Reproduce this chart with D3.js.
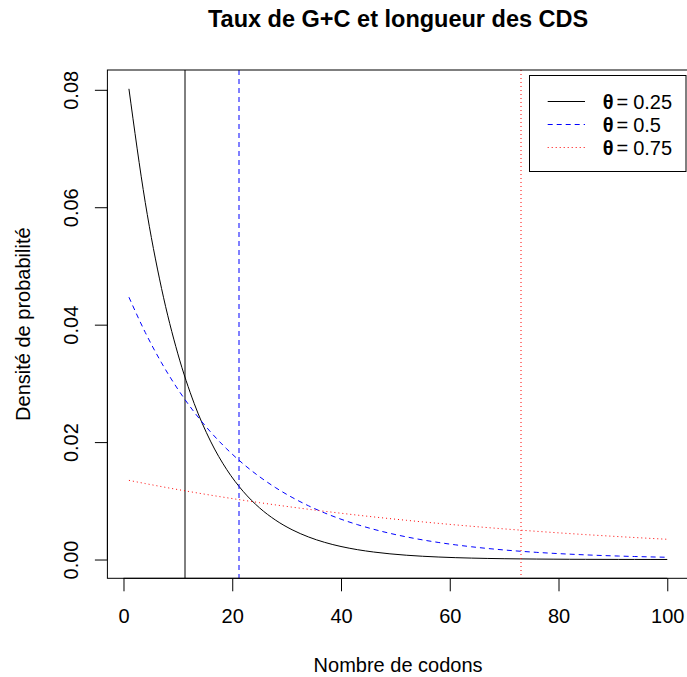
<!DOCTYPE html>
<html>
<head>
<meta charset="utf-8">
<script src="https://cdn.jsdelivr.net/npm/d3@7"></script>
<style>
  body { margin: 0; background: #fff; }
  text { font-family: "Liberation Sans", Arial, sans-serif; }
</style>
</head>
<body>
<div id="container"></div>
<script>
// codon positions sampled along the curves
let codons = [1, 4, 7, 10, 13, 16, 19, 22, 25, 28, 31, 34, 37, 40, 43, 46, 49, 52,
  55, 58, 61, 64, 67, 70, 73, 76, 79, 82, 85, 88, 91, 94, 97, 100]

// density read for each GC rate
let dens025 = [0.080166, 0.060832, 0.046161, 0.035028, 0.026580, 0.020170, 0.015305, 0.011614,
  0.008813, 0.006687, 0.005074, 0.003851, 0.002922, 0.002217, 0.001683, 0.001277, 0.000969, 0.000735,
  0.000558, 0.000423, 0.000321, 0.000244, 0.000185, 0.000140, 0.000107, 0.000081, 0.000061, 0.000047,
  0.000035, 0.000027, 0.000020, 0.000016, 0.000012, 0.000009]
let dens05 = [0.044678, 0.038685, 0.033496, 0.029003, 0.025113, 0.021744, 0.018828, 0.016302,
  0.014116, 0.012222, 0.010583, 0.009163, 0.007934, 0.006870, 0.005949, 0.005151, 0.004460, 0.003862,
  0.003344, 0.002895, 0.002507, 0.002171, 0.001879, 0.001627, 0.001409, 0.001220, 0.001056, 0.000915,
  0.000792, 0.000686, 0.000594, 0.000514, 0.000445, 0.000385]
let dens075 = [0.013485, 0.012939, 0.012416, 0.011914, 0.011432, 0.010969, 0.010525, 0.010100,
  0.009691, 0.009299, 0.008923, 0.008562, 0.008216, 0.007883, 0.007564, 0.007258, 0.006965, 0.006683,
  0.006413, 0.006153, 0.005904, 0.005665, 0.005436, 0.005216, 0.005005, 0.004803, 0.004608, 0.004422,
  0.004243, 0.004071, 0.003906, 0.003748, 0.003597, 0.003451]

// mean lengths (vertical lines)
let means = [11.38, 21.33, 73.14]
let thetas = ['0.25', '0.5', '0.75']
let xTicks = [0, 20, 40, 60, 80, 100]
let yTicks = [0, 0.02, 0.04, 0.06, 0.08]

let series = [
  { theta: thetas[0], values: dens025, mean: means[0], color: '#000000', dash: null },
  { theta: thetas[1], values: dens05, mean: means[1], color: '#0000FF', dash: '5,4' },
  { theta: thetas[2], values: dens075, mean: means[2], color: '#FF0000', dash: '1,3' }
]

let width = 687,
  height = 677

let box = { left: 107.4, right: 688.8, top: 70, bottom: 578.3 }

let svg = d3.select('#container')
  .append('svg')
  .attr('width', width)
  .attr('height', height)

// R style 4% padding on both axes
let xExt = d3.extent(codons)
let xPad = (xExt[1] - xExt[0]) * 0.04
let allY = dens025.concat(dens05, dens075)
let yExt = d3.extent(allY)
let yPad = (yExt[1] - yExt[0]) * 0.04

let x = d3.scaleLinear()
  .domain([xExt[0] - xPad, xExt[1] + xPad])
  .range([box.left, box.right])

let y = d3.scaleLinear()
  .domain([yExt[0] - yPad, yExt[1] + yPad])
  .range([box.bottom, box.top])

svg.append('clipPath').attr('id', 'clip')
  .append('rect')
  .attr('x', box.left).attr('y', box.top)
  .attr('width', box.right - box.left).attr('height', box.bottom - box.top)

let plot = svg.append('g').attr('clip-path', 'url(#clip)')

let line = d3.line()
  .x(d => x(d[0]))
  .y(d => y(d[1]))
  .curve(d3.curveMonotoneX)

series.forEach(s => {
  plot.append('path')
    .datum(codons.map((c, i) => [c, s.values[i]]))
    .attr('d', line)
    .attr('fill', 'none')
    .attr('stroke', s.color)
    .attr('stroke-width', 1)
    .attr('stroke-dasharray', s.dash)

  // straddle two pixel columns, like the antialiased R lines
  let mx = Math.round(x(s.mean))
  plot.append('line')
    .attr('x1', mx).attr('x2', mx)
    .attr('y1', box.top).attr('y2', box.bottom)
    .attr('stroke', s.color)
    .attr('stroke-width', 1)
    .attr('stroke-dasharray', s.dash)
})

// box
svg.append('rect')
  .attr('x', box.left).attr('y', box.top)
  .attr('width', box.right - box.left).attr('height', box.bottom - box.top)
  .attr('fill', 'none')
  .attr('stroke', '#000')
  .attr('stroke-width', 1)

// x axis
let xAxis = svg.append('g')
  .attr('transform', `translate(0,${box.bottom})`)
  .call(d3.axisBottom(x).tickValues(xTicks).tickSize(13).tickFormat(d3.format('d')))
xAxis.select('.domain').remove()
xAxis.append('line')
  .attr('x1', x(xTicks[0])).attr('x2', x(xTicks[xTicks.length - 1]))
  .attr('stroke', '#000')
xAxis.selectAll('text')
  .attr('y', 45).attr('dy', 0)
  .attr('font-size', 20)
  .attr('fill', '#000')
  .attr('font-family', 'Liberation Sans, Arial, sans-serif')

// y axis
let yAxis = svg.append('g')
  .attr('transform', `translate(${box.left},0)`)
  .call(d3.axisLeft(y).tickValues(yTicks).tickSize(12.5).tickFormat(d3.format('.2f')))
yAxis.select('.domain').remove()
yAxis.append('line')
  .attr('y1', y(yTicks[0])).attr('y2', y(yTicks[yTicks.length - 1]))
  .attr('stroke', '#000')
yAxis.selectAll('text')
  .attr('x', null).attr('dy', 0)
  .attr('transform', 'translate(-29,0) rotate(-90)')
  .attr('text-anchor', 'middle')
  .attr('font-size', 20)
  .attr('fill', '#000')
  .attr('font-family', 'Liberation Sans, Arial, sans-serif')

// titles
svg.append('text')
  .attr('x', (box.left + box.right) / 2).attr('y', 26.7)
  .attr('text-anchor', 'middle')
  .attr('font-size', 23.5)
  .attr('font-weight', 'bold')
  .text('Taux de G+C et longueur des CDS')

svg.append('text')
  .attr('x', (box.left + box.right) / 2).attr('y', 671.5)
  .attr('text-anchor', 'middle')
  .attr('font-size', 20)
  .text('Nombre de codons')

svg.append('text')
  .attr('transform', `translate(30,${(box.top + box.bottom) / 2}) rotate(-90)`)
  .attr('text-anchor', 'middle')
  .attr('font-size', 20)
  .text('Densité de probabilité')

// legend
let legend = svg.append('g')
legend.append('rect')
  .attr('x', 529.5).attr('y', 75.5)
  .attr('width', 686 - 529.5).attr('height', 171.5 - 75.5)
  .attr('fill', '#fff')
  .attr('stroke', '#000')

let rows = legend.selectAll('g.row')
  .data(series)
  .join('g')
  .attr('class', 'row')
  .attr('transform', (d, i) => `translate(0,${101.5 + i * 23})`)

rows.append('line')
  .attr('x1', 547.7).attr('x2', 585)
  .attr('stroke', d => d.color)
  .attr('stroke-dasharray', d => d.dash)

let lab = rows.append('text')
  .attr('x', 602.7)
  .attr('dy', 7)
  .attr('font-size', 20)
lab.append('tspan').attr('font-weight', 'bold').text('θ')
lab.append('tspan').attr('dx', 3).text('=')
lab.append('tspan').attr('dx', 5).text(d => d.theta)
</script>
</body>
</html>
